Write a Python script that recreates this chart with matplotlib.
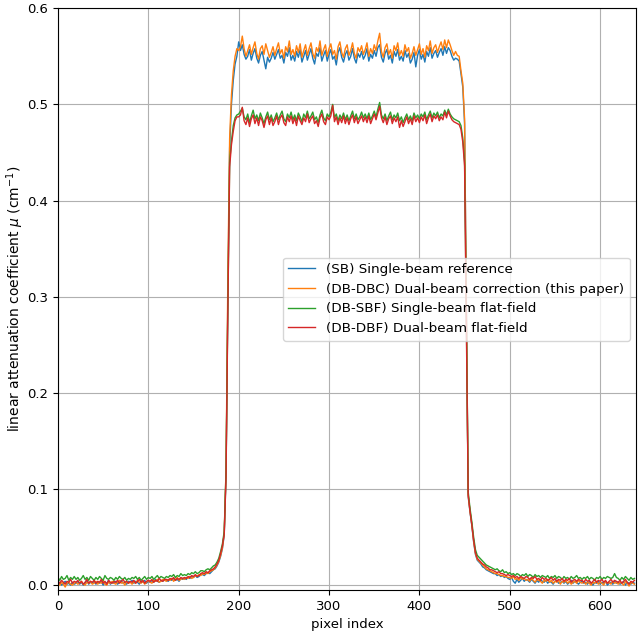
import numpy as np
import matplotlib
matplotlib.use("Agg")
import matplotlib.pyplot as plt

plt.rcParams["font.size"] = 9.5

# ===== Pixel positions (every second detector pixel) =====
pixel = np.arange(0, 640, 2)

# ===== Profiles, in units of 1e-3 cm^-1 =====
# one line = 10 samples = 20 pixels
sb = [
    1, 3, 0, 2, 4, 1, 2, 0, 3, 1,
    2, 4, 1, 3, 0, 2, 5, 1, 3, 2,
    4, 1, 3, 2, 4, 0, 3, 2, 5, 1,
    3, 2, 4, 1, 3, 5, 2, 3, 1, 4,
    3, 5, 2, 4, 3, 1, 4, 3, 5, 2,
    4, 3, 5, 3, 6, 4, 3, 5, 4, 6,
    5, 4, 6, 5, 7, 5, 6, 4, 7, 6,
    7, 6, 8, 7, 9, 8, 10, 8, 9, 11,
    11, 10, 12, 13, 12, 14, 16, 17, 20, 24,
    30, 38, 52, 115, 300, 455, 500, 525, 542, 550,
    565, 556, 562, 552, 547, 550, 557, 546, 553, 558,
    548, 543, 551, 555, 546, 537, 549, 544, 548, 554,
    547, 552, 557, 548, 551, 543, 554, 550, 559, 546,
    551, 545, 555, 549, 557, 544, 550, 556, 546, 552,
    558, 548, 542, 553, 550, 559, 545, 551, 556, 545,
    552, 557, 547, 550, 541, 554, 559, 549, 544, 552,
    556, 546, 550, 558, 548, 543, 553, 549, 555, 547,
    551, 558, 545, 552, 548, 556, 550, 559, 562, 549,
    544, 553, 557, 547, 551, 543, 555, 550, 557, 546,
    550, 545, 556, 549, 553, 543, 547, 554, 539, 551,
    557, 547, 552, 544, 555, 550, 559, 548, 553, 556,
    549, 554, 558, 551, 560, 553, 559, 556, 550, 546,
    548, 547, 545, 532, 518, 480, 280, 92, 76, 62,
    45, 32, 26, 24, 22, 19, 18, 16, 15, 14,
    13, 12, 12, 10, 11, 9, 10, 8, 9, 7,
    6, 8, 4, 2, 6, 3, 5, 7, 4, 6,
    5, 3, 6, 4, 2, 5, 3, 6, 4, 3,
    5, 2, 4, 3, 1, 4, 5, 2, 3, 4,
    2, 4, 1, 3, 5, 2, 4, 3, 1, 3,
    4, 2, 3, 1, 4, 2, 0, 3, 2, 4,
    1, 3, 2, 4, 0, 2, 3, 1, 4, 2,
    3, 1, 2, 4, 0, 3, 2, 1, 3, 2,
]
db_dbc = [
    2, 0, 3, 1, -2, 2, 3, 1, 0, 2,
    3, 1, 2, 4, 1, 0, 3, 2, 4, 1,
    2, 4, 1, 3, 2, 5, 1, 0, 3, 2,
    4, 2, 1, 3, 5, 2, 3, 0, 4, 2,
    3, 1, 4, 2, 5, 3, 2, 4, 1, 3,
    5, 3, 2, 5, 4, 6, 3, 4, 6, 5,
    4, 6, 5, 7, 4, 6, 8, 5, 6, 7,
    6, 8, 7, 9, 7, 8, 10, 9, 11, 10,
    12, 11, 13, 12, 14, 15, 16, 18, 21, 25,
    31, 39, 54, 120, 320, 465, 510, 535, 550, 558,
    556, 560, 571, 558, 550, 556, 562, 552, 559, 565,
    553, 547, 558, 561, 552, 563, 556, 549, 554, 560,
    551, 558, 564, 553, 557, 548, 560, 555, 566, 552,
    557, 550, 561, 554, 563, 549, 556, 562, 551, 558,
    564, 553, 548, 559, 555, 566, 551, 557, 562, 550,
    558, 563, 552, 556, 547, 560, 565, 554, 549, 558,
    562, 551, 556, 564, 553, 548, 559, 555, 561, 552,
    557, 564, 550, 558, 553, 562, 556, 566, 574, 555,
    549, 559, 563, 552, 557, 548, 561, 556, 564, 551,
    556, 550, 562, 555, 559, 548, 553, 560, 551, 557,
    563, 552, 558, 549, 561, 556, 566, 553, 559, 562,
    554, 560, 565, 557, 567, 559, 567, 562, 556, 551,
    555, 551, 550, 535, 522, 485, 290, 93, 77, 63,
    46, 33, 27, 25, 23, 21, 19, 17, 16, 15,
    14, 13, 12, 12, 11, 10, 10, 9, 9, 8,
    8, 7, 9, 6, 7, 5, 8, 6, 7, 5,
    6, 4, 7, 5, 3, 6, 5, 4, 2, 5,
    4, 6, 3, 5, 2, 4, 3, 5, 1, 4,
    3, 5, 2, 4, 1, 3, 4, 2, 5, 3,
    2, 4, 1, 3, 2, 0, 3, 2, 4, 1,
    3, 2, 0, 4, 2, 3, 1, 4, 2, 3,
    1, 3, 2, 0, 4, 2, -1, 3, 2, 1,
]
db_sbf = [
    8, 5, 9, 6, 7, 10, 5, 8, 6, 9,
    6, 8, 5, 7, 10, 6, 8, 5, 9, 7,
    5, 8, 6, 9, 7, 5, 10, 7, 6, 8,
    7, 5, 8, 6, 9, 7, 6, 8, 5, 7,
    6, 8, 7, 9, 6, 8, 5, 7, 9, 6,
    8, 7, 9, 6, 8, 10, 7, 9, 8, 7,
    9, 8, 10, 9, 11, 8, 10, 9, 12, 10,
    11, 10, 12, 11, 13, 12, 14, 12, 13, 15,
    15, 14, 16, 17, 16, 18, 20, 21, 24, 28,
    35, 43, 56, 118, 290, 440, 462, 478, 486, 489,
    490, 493, 496, 487, 484, 490, 481, 488, 494, 485,
    489, 483, 491, 486, 480, 487, 492, 484, 489, 482,
    486, 491, 484, 489, 493, 485, 482, 490, 486, 492,
    484, 489, 483, 491, 487, 482, 490, 486, 493, 485,
    488, 492, 484, 487, 481, 489, 494, 486, 483, 490,
    487, 492, 500, 486, 490, 483, 489, 485, 491, 484,
    489, 483, 488, 493, 485, 490, 484, 487, 492, 486,
    490, 485, 491, 484, 488, 493, 487, 495, 502, 489,
    485, 490, 483, 488, 492, 484, 489, 486, 491, 483,
    487, 481, 486, 490, 484, 488, 483, 491, 486, 489,
    485, 490, 487, 492, 484, 489, 493, 486, 491, 488,
    492, 486, 490, 488, 494, 489, 495, 490, 487, 485,
    484, 483, 482, 478, 465, 440, 275, 97, 80, 66,
    50, 37, 31, 29, 27, 25, 23, 21, 20, 19,
    18, 17, 16, 17, 15, 14, 16, 13, 14, 12,
    13, 11, 12, 10, 12, 11, 9, 11, 10, 12,
    9, 11, 10, 8, 11, 9, 10, 8, 10, 9,
    8, 10, 7, 9, 8, 10, 7, 9, 8, 6,
    9, 7, 8, 6, 9, 7, 8, 10, 7, 8,
    6, 8, 7, 9, 6, 8, 7, 5, 8, 7,
    9, 6, 8, 7, 9, 8, 7, 8, 12, 8,
    7, 5, 8, 6, 9, 7, 5, 8, 6, 7,
]
db_dbf = [
    4, 2, 5, 3, 1, 4, 3, 6, 2, 4,
    3, 5, 2, 4, 1, 3, 6, 2, 4, 3,
    5, 2, 4, 3, 6, 2, 4, 1, 5, 3,
    2, 4, 3, 5, 2, 4, 6, 3, 4, 2,
    4, 3, 5, 2, 4, 6, 3, 5, 2, 4,
    5, 4, 6, 3, 5, 4, 7, 5, 4, 6,
    6, 5, 7, 6, 8, 5, 7, 6, 8, 7,
    8, 7, 9, 8, 10, 9, 11, 9, 10, 12,
    13, 12, 14, 13, 15, 16, 17, 19, 22, 26,
    33, 41, 53, 112, 285, 435, 458, 472, 483, 487,
    487, 489, 497, 483, 479, 486, 477, 485, 489, 480,
    486, 478, 487, 483, 476, 484, 488, 479, 486, 478,
    482, 488, 479, 486, 489, 481, 478, 487, 482, 488,
    480, 486, 478, 488, 483, 479, 486, 482, 490, 481,
    485, 488, 480, 483, 477, 486, 490, 482, 479, 487,
    484, 488, 499, 482, 487, 479, 486, 481, 488, 480,
    486, 479, 485, 489, 481, 487, 480, 484, 488, 482,
    487, 481, 488, 480, 485, 490, 484, 491, 498, 486,
    481, 487, 479, 485, 488, 480, 486, 482, 487, 476,
    483, 477, 482, 487, 480, 485, 479, 488, 482, 486,
    481, 487, 483, 489, 480, 486, 490, 482, 488, 485,
    489, 483, 487, 484, 492, 486, 493, 488, 484, 482,
    481, 480, 479, 474, 461, 436, 270, 94, 77, 63,
    47, 34, 28, 26, 24, 22, 21, 19, 18, 16,
    16, 15, 14, 13, 14, 12, 12, 11, 10, 11,
    10, 9, 10, 8, 9, 7, 9, 8, 7, 9,
    8, 6, 8, 7, 9, 6, 7, 5, 8, 6,
    7, 5, 6, 8, 5, 7, 4, 6, 5, 7,
    4, 6, 5, 7, 3, 5, 6, 4, 6, 5,
    5, 3, 6, 4, 5, 2, 4, 6, 3, 5,
    4, 6, 3, 5, 2, 4, 6, 3, 5, 4,
    3, 5, 2, 4, 6, 3, 1, 4, 3, 5,
]

labels = [
    "(SB) Single-beam reference",
    "(DB-DBC) Dual-beam correction (this paper)",
    "(DB-SBF) Single-beam flat-field",
    "(DB-DBF) Dual-beam flat-field",
]

# ===== Plot =====
fig, ax = plt.subplots(figsize=(6.44, 6.33), dpi=100)
fig.subplots_adjust(left=0.090, right=0.988, bottom=0.068, top=0.987)

for series, label in zip([sb, db_dbc, db_sbf, db_dbf], labels):
    assert len(series) == len(pixel), (label, len(series))
    ax.plot(pixel, np.array(series) / 1000.0, linewidth=1.0, label=label)

ax.set_xlim(0, 640)
ax.set_ylim(-0.005, 0.6)
ax.set_xlabel("pixel index")
ax.set_ylabel(r"linear attenuation coefficient $\mu$ (cm$^{-1}$)", fontsize=10)
ax.yaxis.set_label_coords(-0.056, 0.5)
ax.grid(True)
ax.legend(loc="center right", fontsize=9.7)

fig.savefig("out.png", dpi=100)
